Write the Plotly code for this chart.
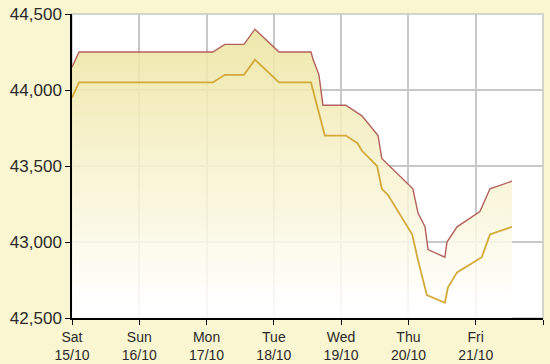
import plotly.graph_objects as go

# Sell (upper, red) and buy (lower, gold) price series
sell_time = ["2011-10-15 00:00", "2011-10-15 02:30", "2011-10-17 00:00", "2011-10-17 02:15",
             "2011-10-17 06:30", "2011-10-17 13:20", "2011-10-17 17:15", "2011-10-18 01:50",
             "2011-10-18 13:15", "2011-10-18 14:00", "2011-10-18 16:05", "2011-10-18 17:30",
             "2011-10-19 01:40", "2011-10-19 07:25", "2011-10-19 13:10", "2011-10-19 14:30",
             "2011-10-20 01:35", "2011-10-20 03:25", "2011-10-20 05:55", "2011-10-20 07:00",
             "2011-10-20 13:00", "2011-10-20 13:45", "2011-10-20 17:20", "2011-10-21 01:30",
             "2011-10-21 05:05", "2011-10-21 12:55"]
sell_val = [44150, 44250, 44250, 44250,
            44300, 44300, 44400, 44250,
            44250, 44200, 44100, 43900,
            43900, 43830, 43700, 43550,
            43350, 43190, 43100, 42950,
            42900, 43000, 43100, 43200,
            43350, 43400]

buy_time = ["2011-10-15 00:00", "2011-10-15 02:30", "2011-10-17 00:00", "2011-10-17 02:15",
            "2011-10-17 06:30", "2011-10-17 13:20", "2011-10-17 17:15", "2011-10-18 01:50",
            "2011-10-18 13:15", "2011-10-18 14:40", "2011-10-18 18:10", "2011-10-19 01:40",
            "2011-10-19 05:50", "2011-10-19 07:25", "2011-10-19 12:50", "2011-10-19 14:30",
            "2011-10-19 16:40", "2011-10-20 01:20", "2011-10-20 03:25", "2011-10-20 06:35",
            "2011-10-20 13:00", "2011-10-20 14:05", "2011-10-20 17:20", "2011-10-21 02:10",
            "2011-10-21 05:05", "2011-10-21 12:55"]
buy_val = [43950, 44050, 44050, 44050,
           44100, 44100, 44200, 44050,
           44050, 43950, 43700, 43700,
           43650, 43600, 43500, 43350,
           43310, 43050, 42880, 42650,
           42600, 42700, 42800, 42900,
           43050, 43100]

tick_vals = ["2011-10-15", "2011-10-16", "2011-10-17", "2011-10-18",
             "2011-10-19", "2011-10-20", "2011-10-21", "2011-10-22"]
tick_text = ["Sat<br>15/10", "Sun<br>16/10", "Mon<br>17/10", "Tue<br>18/10",
             "Wed<br>19/10", "Thu<br>20/10", "Fri<br>21/10", ""]
y_ticks = [42500, 43000, 43500, 44000, 44500]

fig = go.Figure()
fig.add_trace(go.Scatter(
    x=sell_time, y=sell_val, mode="lines",
    line=dict(color="#B45F5A", width=1.4),
    fill="tozeroy",
    fillgradient=dict(type="vertical", start=42600, stop=44400,
                      colorscale=[[0, "rgba(255,255,255,0.85)"], [0.3, "rgba(250,247,222,0.85)"],
                                  [0.6, "rgba(245,239,195,0.85)"], [1, "rgba(236,228,160,0.88)"]]),
    hoverinfo="skip", showlegend=False))
fig.add_trace(go.Scatter(
    x=buy_time, y=buy_val, mode="lines",
    line=dict(color="#D3A93A", width=1.8),
    fill="tozeroy",
    fillgradient=dict(type="vertical", start=42500, stop=44200,
                      colorscale=[[0, "rgba(255,255,255,0)"], [1, "rgba(240,232,170,0.2)"]]),
    hoverinfo="skip", showlegend=False))

fig.add_shape(type="rect", xref="x domain", yref="y domain", x0=0, x1=1, y0=0, y1=1,
              line=dict(color="#C8C8C8", width=1.5), layer="below")

fig.update_layout(
    width=550, height=364,
    margin=dict(l=72, r=7, t=14, b=46),
    paper_bgcolor="#FAF6D2",
    plot_bgcolor="#FFFFFF",
    font=dict(family="Liberation Sans, Arial, sans-serif", color="#2A2A2A"),
)
fig.update_xaxes(
    type="date", range=["2011-10-15", "2011-10-22"],
    tickmode="array", tickvals=tick_vals, ticktext=tick_text,
    tickfont=dict(size=14), ticks="outside", ticklen=5, tickcolor="#000",
    ticklabelstandoff=0, automargin=False,
    showline=True, linecolor="#000", linewidth=1.5,
    showgrid=True, gridcolor="#C8C8C8", gridwidth=1.5, zeroline=False)
fig.update_yaxes(
    range=[42500, 44500], tickmode="array", tickvals=y_ticks,
    tickformat=",d", tickfont=dict(size=17), ticks="outside", ticklen=5, tickcolor="#000",
    automargin=False,
    showline=True, linecolor="#000", linewidth=1.5,
    showgrid=True, gridcolor="#C8C8C8", gridwidth=1.5, zeroline=False)

fig.write_html("out.html")
